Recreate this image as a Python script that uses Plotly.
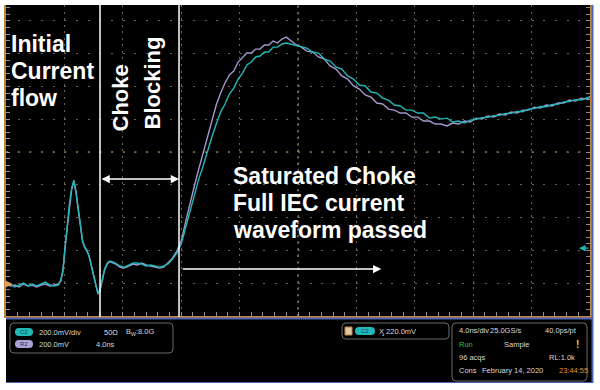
import plotly.graph_objects as go

W, H = 600, 390

# ---------------- data (time in ns, voltage in mV, 4 ns/div, 200 mV/div) ----------------
time_ns = [
    -20.0, -19.7, -19.4, -19.1, -18.8, -18.5, -18.2, -17.9, -17.6, -17.3, -17.0, -16.7, -16.4,
    -16.25, -16.1, -15.95, -15.8, -15.65, -15.5, -15.35, -15.2, -15.05, -14.9, -14.75, -14.6,
    -14.45, -14.3, -14.15, -14.0, -13.85, -13.7, -13.55, -13.4, -13.25, -13.1, -12.95,
    -12.8, -12.5, -12.2, -11.9, -11.6, -11.3, -11.0, -10.7, -10.4, -10.1, -9.8, -9.5, -9.2,
    -8.9, -8.6, -8.3, -8.0,
    -7.7, -7.4, -7.1, -6.8, -6.5, -6.2, -5.9, -5.6, -5.3, -5.0, -4.7, -4.4, -4.1, -3.8, -3.5,
    -3.2, -2.9, -2.6, -2.3, -2.0, -1.7, -1.4, -1.1, -0.8, -0.5, -0.2,
    0.2, 0.6, 1.0, 1.4, 1.8, 2.2, 2.6, 3.0, 3.4, 3.8, 4.2, 4.6, 5.0, 5.4, 5.8, 6.2, 6.6, 7.0,
    7.4, 7.8, 8.2, 8.6, 9.0, 9.4, 9.8, 10.2, 10.6, 11.0, 11.4, 11.8, 12.2, 12.6, 13.0, 13.4,
    13.8, 14.2, 14.6, 15.0, 15.4, 15.8, 16.2, 16.6, 17.0, 17.4, 17.8, 18.2, 18.6, 19.0, 19.4,
    19.8, 20.0,
]

ref2_mV = [  # lavender reference waveform (R2)
    -805, -817, -811, -823, -805, -817, -811, -823, -811, -805, -817, -811, -805,
    -787, -726, -573, -445, -317, -226, -177, -250, -354, -451, -549, -580,
    -604, -635, -695, -756, -817, -866, -842, -775, -720, -689, -671,
    -671, -683, -702, -708, -695, -683, -689, -677, -689, -695, -702, -708, -702,
    -677, -647, -604, -543,
    -427, -311, -207, -104, -6, 92, 195, 287, 360, 421, 470, 494, 549, 574, 604,
    604, 628, 628, 653, 653, 677, 665, 689, 701, 677, 659,
    641, 616, 610, 580, 567, 525, 506, 464, 445, 403, 384, 348, 335, 299, 293, 262, 256, 238,
    238, 214, 213, 189, 189, 171, 171, 159, 177, 171, 189, 183, 207, 201, 220, 214,
    232, 226, 244, 238, 256, 256, 274, 268, 287, 281, 299, 299, 317, 311, 329,
    323, 336,
]

ch2_mV = [  # cyan live waveform (C2)
    -811, -805, -823, -811, -799, -817, -805, -817, -805, -793, -811, -817, -811,
    -781, -720, -567, -439, -311, -220, -171, -244, -348, -457, -543, -586,
    -598, -641, -689, -750, -811, -860, -836, -769, -714, -683, -665,
    -665, -677, -695, -702, -689, -677, -677, -683, -695, -689, -695, -702, -695,
    -683, -653, -616, -561,
    -464, -354, -256, -165, -85, 6, 92, 171, 244, 293, 354, 390, 445, 482, 531,
    549, 580, 586, 610, 610, 640, 641, 659, 665, 659, 653,
    641, 634, 610, 604, 567, 555, 519, 506, 464, 445, 409, 403, 366, 360, 329, 317, 287, 281,
    256, 256, 238, 238, 207, 214, 201, 207, 183, 189, 177, 195, 200, 210, 212, 222,
    224, 236, 236, 248, 246, 262, 265, 278, 276, 290, 292, 306, 308, 320, 318,
    334, 338,
]

window_ns = [-13.56, -8.15]          # white cursor lines (choke blocking window)
window_arrow_mV = -165               # level of the double arrow
passed_arrow_ns = [-8.0, 5.7]        # "full waveform passed" arrow
passed_arrow_mV = -714

x_range = [-20, 20]
y_range = [-1000, 897]

# ---------------- colours ----------------
CYAN = "#22b8b8"
LAV = "#a597cf"
ORANGE = "#c0873c"
BLUE = "#4a63b8"
GRID = "#6a6252"
CENTER = "#a88045"

def px(x):
    return x / W

def py(y):
    return 1 - y / H

def rrect(x0, y0, x1, y1, r):
    # rounded rectangle path in paper coordinates from pixel coordinates
    pts = [
        f"M{px(x0 + r)},{py(y0)}",
        f"L{px(x1 - r)},{py(y0)}",
        f"Q{px(x1)},{py(y0)} {px(x1)},{py(y0 + r)}",
        f"L{px(x1)},{py(y1 - r)}",
        f"Q{px(x1)},{py(y1)} {px(x1 - r)},{py(y1)}",
        f"L{px(x0 + r)},{py(y1)}",
        f"Q{px(x0)},{py(y1)} {px(x0)},{py(y1 - r)}",
        f"L{px(x0)},{py(y0 + r)}",
        f"Q{px(x0)},{py(y0)} {px(x0 + r)},{py(y0)}",
        "Z",
    ]
    return " ".join(pts)

fig = go.Figure()
fig.add_trace(go.Scatter(x=time_ns, y=ref2_mV, mode="lines",
                         line=dict(color=LAV, width=1.4), hoverinfo="skip"))
fig.add_trace(go.Scatter(x=time_ns, y=ch2_mV, mode="lines",
                         line=dict(color=CYAN, width=1.4), hoverinfo="skip"))

shapes = []
# scope screen background
shapes.append(dict(type="rect", xref="paper", yref="paper", x0=px(6), x1=px(593),
                   y0=py(383), y1=py(5), fillcolor="black", line=dict(width=0), layer="below"))
# blue frame lines
shapes.append(dict(type="line", xref="paper", yref="paper", x0=px(6), x1=px(593),
                   y0=py(318.5), y1=py(318.5), line=dict(color=BLUE, width=2)))
shapes.append(dict(type="line", xref="paper", yref="paper", x0=px(592.5), x1=px(592.5),
                   y0=py(5), y1=py(383), line=dict(color=BLUE, width=2)))
shapes.append(dict(type="line", xref="paper", yref="paper", x0=px(6), x1=px(593),
                   y0=py(382.5), y1=py(382.5), line=dict(color=BLUE, width=1)))
# centre cross of graticule
shapes.append(dict(type="line", xref="x", yref="paper", x0=0, x1=0, y0=py(316), y1=py(5),
                   line=dict(color=CENTER, width=1.5, dash="2px,4.56px"), layer="below"))
shapes.append(dict(type="line", xref="paper", yref="y", x0=px(6), x1=px(590), y0=0, y1=0,
                   line=dict(color=CENTER, width=1.5, dash="2px,9.68px"), layer="below"))
# white cursor lines
for t in window_ns:
    shapes.append(dict(type="line", xref="x", yref="paper", x0=t, x1=t, y0=py(317), y1=py(5),
                       line=dict(color="white", width=1.5)))
# info panel boxes
shapes.append(dict(type="path", xref="paper", yref="paper", path=rrect(10, 323, 173, 353, 4),
                   line=dict(color="#6a6a6a", width=1)))
shapes.append(dict(type="path", xref="paper", yref="paper", path=rrect(342, 323, 449, 339, 4),
                   line=dict(color="#6a6a6a", width=1)))
shapes.append(dict(type="path", xref="paper", yref="paper", path=rrect(452, 323, 587, 381, 4),
                   line=dict(color="#6a6a6a", width=1)))
# badges
shapes.append(dict(type="path", xref="paper", yref="paper", path=rrect(15, 328, 33, 336, 4),
                   fillcolor=CYAN, line=dict(width=0)))
shapes.append(dict(type="path", xref="paper", yref="paper", path=rrect(15, 340, 33, 348, 4),
                   fillcolor="#aaa2d6", line=dict(width=0)))
shapes.append(dict(type="path", xref="paper", yref="paper", path=rrect(355, 327, 375, 335, 4),
                   fillcolor=CYAN, line=dict(width=0)))
shapes.append(dict(type="rect", xref="paper", yref="paper", x0=px(345), x1=px(352),
                   y0=py(335), y1=py(327), fillcolor="#e0c8a0", line=dict(color="#c08040", width=1)))

fig.update_layout(shapes=shapes)

BIG = dict(family="Liberation Sans, Arial, sans-serif", size=23, color="white")
ann = []

def label(text, x, y, **kw):
    d = dict(text=f"<b>{text}</b>", xref="paper", yref="paper", x=px(x), y=py(y),
             xanchor="left", yanchor="middle", showarrow=False, font=BIG)
    d.update(kw)
    ann.append(d)

label("Initial", 9, 44)
label("Current", 9, 71)
label("flow", 9, 98)
label("Saturated Choke", 231, 176)
label("Full IEC current", 231, 203)
label("waveform passed", 231, 230)
ann.append(dict(text="<b>Choke</b>", xref="paper", yref="paper", x=px(120), y=py(98.5),
                xanchor="center", yanchor="middle", textangle=-90, showarrow=False,
                font=dict(BIG, size=22)))
ann.append(dict(text="<b>Blocking</b>", xref="paper", yref="paper", x=px(152), y=py(83.5),
                xanchor="center", yanchor="middle", textangle=-90, showarrow=False,
                font=dict(BIG, size=22)))

# arrows
ann.append(dict(x=window_ns[1], y=window_arrow_mV, ax=window_ns[0], ay=window_arrow_mV,
                xref="x", yref="y", axref="x", ayref="y", text="", showarrow=True,
                arrowhead=2, startarrowhead=2, arrowside="end+start", arrowsize=1.1,
                startarrowsize=1.1, arrowwidth=1.5, arrowcolor="white"))
ann.append(dict(x=passed_arrow_ns[1], y=passed_arrow_mV, ax=passed_arrow_ns[0], ay=passed_arrow_mV,
                xref="x", yref="y", axref="x", ayref="y", text="", showarrow=True,
                arrowhead=2, arrowsize=1.1, arrowwidth=1.5, arrowcolor="white"))
# level markers
ann.append(dict(x=19.25, y=-586, ax=20, ay=-586, xref="x", yref="y", axref="x", ayref="y",
                text="", showarrow=True, arrowhead=2, arrowsize=1, arrowwidth=1.3,
                arrowcolor=CYAN))
ann.append(dict(x=-19.55, y=-805, ax=-20, ay=-805, xref="x", yref="y", axref="x", ayref="y",
                text="", showarrow=True, arrowhead=2, arrowsize=1, arrowwidth=1.5,
                arrowcolor="#e0a050"))

SMALL = dict(family="Liberation Sans, Arial, sans-serif", size=7.5, color="#d8d8d8")

def small(text, x, y, color="#d8d8d8", anchor="left", size=7.5):
    ann.append(dict(text=text, xref="paper", yref="paper", x=px(x), y=py(y),
                    xanchor=anchor, yanchor="middle", showarrow=False,
                    font=dict(SMALL, color=color, size=size)))

small("C2", 24, 332, color="#0a4a4a", anchor="center", size=6)
small("R2", 24, 344, color="#303060", anchor="center", size=6)
small("200.0mV/div", 37, 332)
small("50Ω", 102, 332)
small("B<sub>W</sub>:8.0G", 124, 332)
small("200.0mV", 37, 344)
small("4.0ns", 94, 344)
small("C2", 365, 331, color="#0a4a4a", anchor="center", size=6)
small("Ӽ 220.0mV", 377, 331)
small("4.0ns/div", 457, 330)
small("25.0GS/s", 488, 330)
small("40.0ps/pt", 543, 330)
small("Run", 457, 344, color="#30c040")
small("Sample", 502, 344)
small("<b>!</b>", 574, 344, color="#f0d020", size=10)
small("96 acqs", 457, 357)
small("RL:1.0k", 547, 357)
small("Cons", 457, 370)
small("February 14, 2020", 480, 370)
small("23:44:55", 557, 370, color="#e09030")

fig.update_layout(annotations=ann)

fig.update_layout(
    width=W, height=H, autosize=False,
    margin=dict(l=0, r=0, t=0, b=0, pad=0),
    paper_bgcolor="white", plot_bgcolor="black",
    showlegend=False,
    xaxis=dict(domain=[px(6), px(590)], range=x_range, dtick=4, tick0=-20,
               showgrid=True, gridcolor=GRID, gridwidth=1, griddash="2px,4.56px",
               zeroline=False, showticklabels=False,
               ticks="inside", ticklen=4, tickcolor="#909090", tickwidth=1,
               showline=True, linecolor=ORANGE, linewidth=2,
               minor=dict(dtick=0.8, tick0=-20, ticks="inside", ticklen=4,
                          tickcolor="#909090", showgrid=False),
               fixedrange=True),
    yaxis=dict(domain=[py(316), py(5)], range=y_range, dtick=200, tick0=0,
               showgrid=True, gridcolor=GRID, gridwidth=1, griddash="2px,9.68px",
               zeroline=False, showticklabels=False,
               ticks="inside", ticklen=4, tickcolor="#909090", tickwidth=1,
               showline=True, linecolor=ORANGE, linewidth=2, mirror="ticks",
               minor=dict(dtick=40, tick0=0, ticks="inside", ticklen=4,
                          tickcolor="#909090", showgrid=False),
               fixedrange=True),
)

fig.write_html("out.html", config={"displayModeBar": False},
               post_script="document.body.style.margin='0px';")
